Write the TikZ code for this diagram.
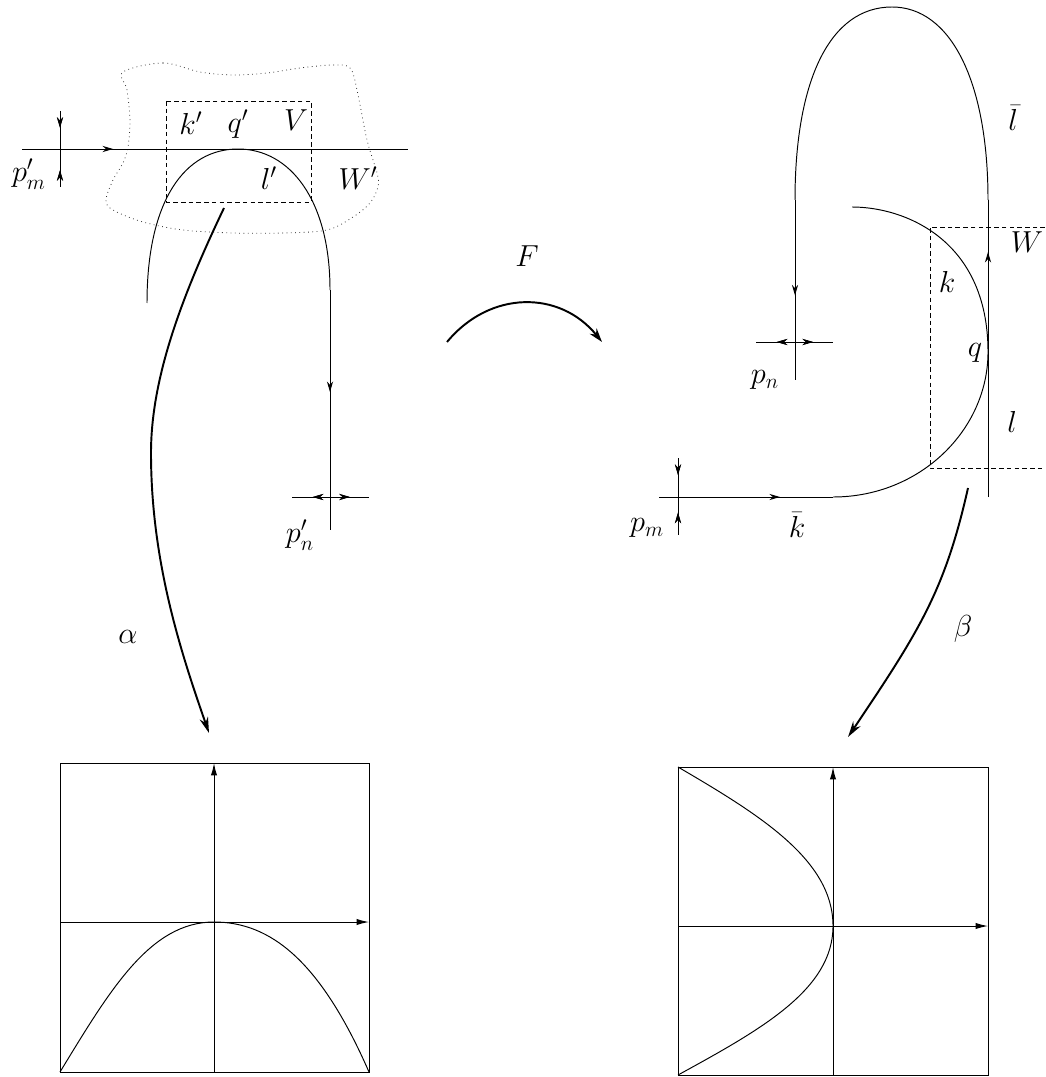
\documentclass[tikz,border=0pt]{standalone}
\usetikzlibrary{arrows.meta,decorations.markings}
\tikzset{
  thin line/.style={line width=0.55pt},
  thick arrow/.style={line width=1.1pt,-{Stealth[length=9pt,width=5pt]}},
  fwd/.style={postaction={decorate},decoration={markings,mark=at position #1 with {\arrow{Stealth[length=6pt,width=3.5pt]}}}},
  bwd/.style={postaction={decorate},decoration={markings,mark=at position #1 with {\arrowreversed{Stealth[length=6pt,width=3.5pt]}}}},
  axis/.style={line width=0.55pt,-{Latex[length=7pt,width=3.5pt]}},
  dashbox/.style={line width=0.55pt,dash pattern=on 2.6pt off 1.8pt},
  lab/.style={font=\fontsize{16.5}{20}\selectfont,inner sep=0pt}
}
\begin{document}
\begin{tikzpicture}[x=0.02cm,y=-0.02cm]
\useasboundingbox (0,0) rectangle (1045,1077);

% ---------- top left ----------
\draw[line width=0.45pt,dotted,black!80] plot[smooth cycle,tension=0.55] coordinates {
 (123,72) (163,63) (200,72) (233,75) (267,73) (300,68) (333,65) (350,68)
 (357,90) (367,140) (377,173) (378,187) (370,203) (353,217) (327,230)
 (283,233) (233,233) (183,230) (143,222) (113,210) (106,200) (113,180)
 (123,163) (128,147) (130,120) (127,90)};
\draw[dashbox] (166,101) rectangle (311,202);
\coordinate (hl0) at (22,149);
\coordinate (hl1) at (408,149);
\draw[thin line,fwd=0.236] (hl0) -- (hl1);
\coordinate (pm0) at (60,111);
\coordinate (pm1) at (60,187);
\draw[thin line,fwd=0.22,bwd=0.78] (pm0) -- (pm1);
\coordinate (qp) at (238,149);
\coordinate (lend) at (147,303);
\coordinate (rturn) at (330,290);
\coordinate (rend) at (330,530);
\draw[thin line] (lend) .. controls (147,200) and (185,149) .. (qp)
   .. controls (290,149) and (330,200) .. (rturn);
\draw[thin line,fwd=0.425] (rturn) -- (rend);
\coordinate (pn0) at (292,497);
\coordinate (pn1) at (369,497);
\draw[thin line,bwd=0.27,fwd=0.75] (pn0) -- (pn1);

\node[lab] (kp) at (191,123) {$k'$};
\node[lab] (qpl) at (238,124) {$q'$};
\node[lab] (V) at (296,120) {$V$};
\node[lab] (lp) at (269,178) {$l'$};
\node[lab] (Wp) at (358,178) {$W'$};
\node[lab] (pmp) at (29,174) {$p'_m$};
\node[lab] (pnp) at (300,535) {$p'_n$};

% alpha arrow
\coordinate (a0) at (224,208);
\coordinate (a1) at (151,453);
\coordinate (a2) at (209,733);
\draw[thick arrow] (a0) .. controls (180,300) and (151,380) .. (a1)
   .. controls (151,560) and (180,650) .. (a2);
\node[lab] (alpha) at (128,637) {$\alpha$};

% F arrow
\coordinate (F0) at (447,342);
\coordinate (F1) at (602,342);
\draw[line width=1.1pt,-{Stealth[length=8pt,width=5pt]}] (F0) .. controls (490,290) and (560,290) .. (F1);
\node[lab] (F) at (527,256) {$F$};

% ---------- top right ----------
\coordinate (Rb) at (988,497);
\coordinate (Rt) at (988,200);
\coordinate (Lt) at (795,200);
\coordinate (Lb) at (795,380);
\draw[thin line,fwd=0.825] (Rb) -- (Rt);
\draw[thin line] (Rt) .. controls (988,80) and (950,7) .. (892,7)
   .. controls (830,7) and (795,80) .. (Lt);
\draw[thin line,fwd=0.53] (Lt) -- (Lb);
\coordinate (pc0) at (756,342);
\coordinate (pc1) at (833,342);
\draw[thin line,bwd=0.27,fwd=0.74] (pc0) -- (pc1);

\coordinate (k0) at (852,207);
\coordinate (qq) at (988,352);
\coordinate (kb) at (833,497);
\draw[thin line] (k0) .. controls (905,207) and (988,240) .. (qq)
   .. controls (988,430) and (920,497) .. (kb);
\coordinate (h0) at (659,497);
\draw[thin line,fwd=0.695] (h0) -- (kb);
\coordinate (pv0) at (678,458);
\coordinate (pv1) at (678,535);
\draw[thin line,fwd=0.22,bwd=0.71] (pv0) -- (pv1);
\draw[dashbox] (1045,227) -- (930,227) -- (930,468) -- (1045,468);

\node[lab] (lbar) at (1013,118) {$\bar l$};
\node[lab] (W) at (1027,242) {$W$};
\node[lab] (k) at (947,282) {$k$};
\node[lab] (q) at (975,353) {$q$};
\node[lab] (l) at (1012,422) {$l$};
\node[lab] (pn) at (765,380) {$p_n$};
\node[lab] (pm) at (647,528) {$p_m$};
\node[lab] (kbar) at (797,525) {$\bar k$};

% beta arrow
\coordinate (b0) at (968,488);
\coordinate (b1) at (848,737);
\draw[thick arrow] (b0) .. controls (945,590) and (920,630) .. (b1);
\node[lab] (beta) at (963,629) {$\beta$};

% ---------- bottom left ----------
\draw[thin line] (60,763) rectangle (369,1072);
\draw[axis] (214,1072) -- (214,763);
\draw[axis] (60,922) -- (369,922);
\draw[thin line] (60,1072) .. controls (110,990) and (150,922) .. (214,922)
   .. controls (270,922) and (320,960) .. (369,1072);

% ---------- bottom right ----------
\draw[thin line] (678,767) rectangle (988,1075);
\draw[axis] (833,1075) -- (833,767);
\draw[axis] (678,926) -- (988,926);
\draw[thin line] (678,767) .. controls (760,815) and (833,860) .. (833,926)
   .. controls (833,990) and (760,1030) .. (678,1075);
\end{tikzpicture}
\end{document}
